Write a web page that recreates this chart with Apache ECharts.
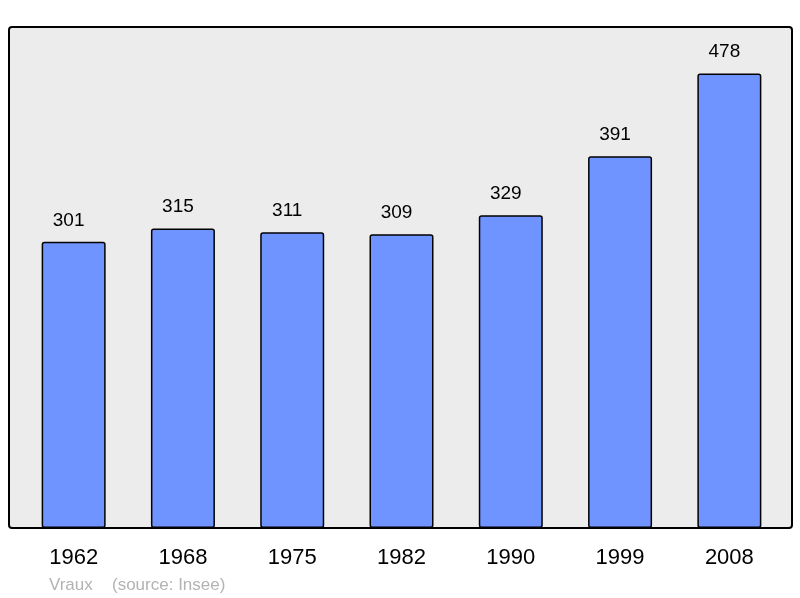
<!DOCTYPE html>
<html><head><meta charset="utf-8">
<script src="https://cdn.jsdelivr.net/npm/echarts@6/dist/echarts.min.js"></script>
<style>html,body{margin:0;padding:0;background:#fff}#c{width:800px;height:598px}</style>
</head><body><div id="c"></div>
<script>
var years = ['1962','1968','1975','1982','1990','1999','2008'];
var population = [301,315,311,309,329,391,478];
var footerPlace = 'Vraux';
var footerSource = '(source: Insee)';

var chart = echarts.init(document.getElementById('c'));
chart.setOption({
  backgroundColor: '#ffffff',
  animation: false,
  graphic: [
    {type:'rect', z:-1, shape:{x:9,y:27,width:783,height:501,r:3},
     style:{fill:'#ececec', stroke:'#000', lineWidth:2}},
    {type:'text', left:49, top:577, style:{text:footerPlace, fill:'#b3b3b3', font:'17px "Liberation Sans", Arial, sans-serif'}},
    {type:'text', left:112, top:577, style:{text:footerSource, fill:'#b3b3b3', font:'17px "Liberation Sans", Arial, sans-serif'}}
  ],
  grid: {left:19, right:16, top:27, bottom:70, containLabel:false},
  xAxis: {
    type:'category', data: years,
    axisLine:{show:false}, axisTick:{show:false},
    axisLabel:{color:'#000', fontSize:22, fontFamily:'"Liberation Sans", Arial, sans-serif', margin:19}
  },
  yAxis: {type:'value', min:0, max:527, show:false, splitLine:{show:false}},
  series: [{
    type:'bar', data: population, barWidth:64,
    itemStyle:{color:'#7094ff', borderColor:'#000', borderWidth:1.5, borderRadius:2},
    label:{show:true, position:'top', distance:12, offset:[-5,0], color:'#000', fontSize:19,
      fontFamily:'"Liberation Sans", Arial, sans-serif'}
  }]
});
</script></body></html>
